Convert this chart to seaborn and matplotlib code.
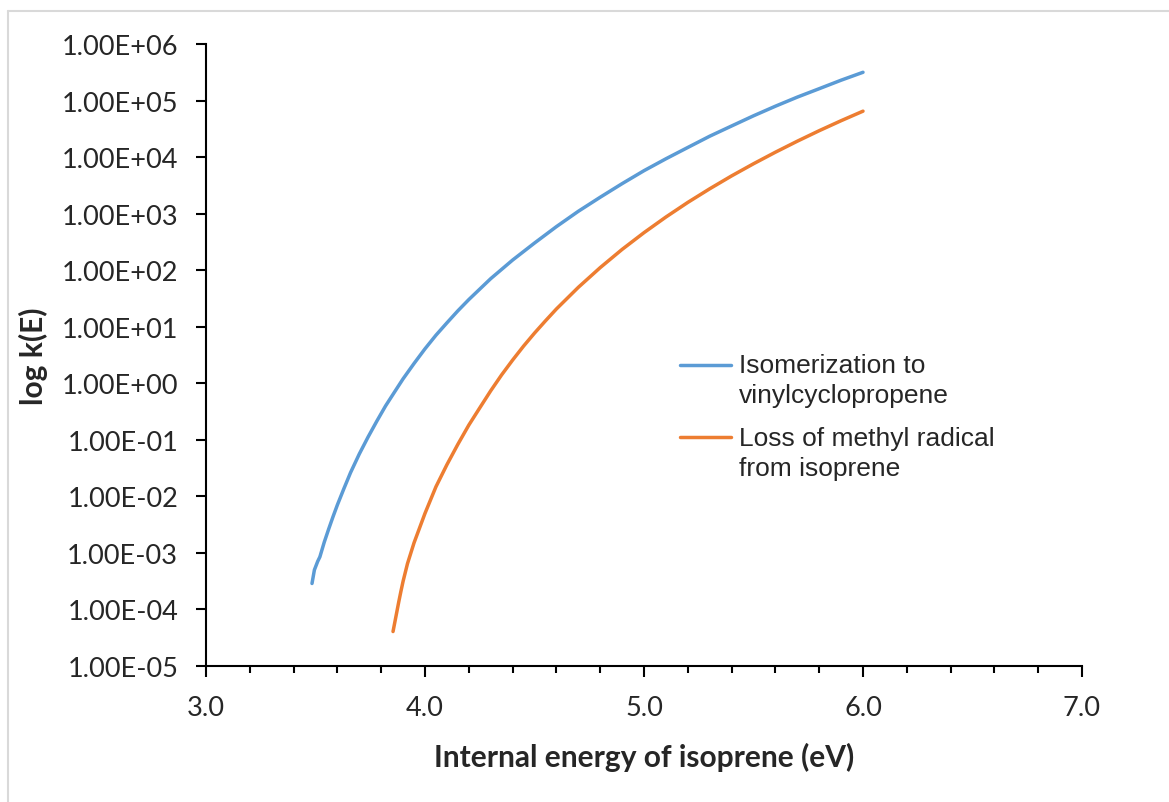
import numpy as np
import pandas as pd
import matplotlib
matplotlib.use("Agg")
import matplotlib.pyplot as plt
from matplotlib.lines import Line2D
from matplotlib.ticker import LogLocator, FuncFormatter, MultipleLocator, NullLocator
from matplotlib.legend_handler import HandlerLine2D
import seaborn as sns

# ---- data ----
series_names = ["Isomerization to\nvinylcyclopropene",
                "Loss of methyl radical\nfrom isoprene"]

iso_energy = [3.484, 3.495, 3.500, 3.510, 3.520, 3.54, 3.56, 3.58, 3.60, 3.63,
              3.66, 3.70, 3.74, 3.78, 3.82, 3.86, 3.90, 3.95, 4.00, 4.05,
              4.10, 4.15, 4.20, 4.30, 4.40, 4.50, 4.60, 4.70, 4.80, 4.90,
              5.00, 5.10, 5.20, 5.30, 5.40, 5.50, 5.60, 5.70, 5.80, 5.90, 6.00]
iso_k = [2.88e-4, 5.01e-4, 5.62e-4, 7.08e-4, 8.51e-4, 1.55e-3, 2.63e-3, 4.37e-3, 7.08e-3, 1.38e-2,
         2.63e-2, 5.62e-2, 0.112, 0.214, 0.398, 0.692, 1.20, 2.24, 4.07, 7.08,
         11.7, 19.1, 30.2, 70.8, 151, 302, 589, 1.10e3, 1.95e3, 3.39e3,
         5.75e3, 9.33e3, 1.48e4, 2.34e4, 3.55e4, 5.37e4, 7.94e4, 1.15e5, 1.62e5, 2.29e5, 3.16e5]

me_energy = [3.854, 3.865, 3.872, 3.880, 3.890, 3.90, 3.92, 3.95, 4.00, 4.05, 4.10,
             4.15, 4.20, 4.25, 4.30, 4.35, 4.40, 4.45, 4.50, 4.55, 4.60,
             4.70, 4.80, 4.90, 5.00, 5.10, 5.20, 5.30, 5.40, 5.50, 5.60,
             5.70, 5.80, 5.90, 6.00]
me_k = [4.07e-5, 6.76e-5, 9.33e-5, 1.35e-4, 2.09e-4, 3.16e-4, 6.46e-4, 1.51e-3, 5.01e-3, 1.48e-2, 3.63e-2,
        8.32e-2, 0.182, 0.367, 0.736, 1.41, 2.57, 4.54, 7.71, 12.7, 20.6,
        49.7, 111, 233, 461, 871, 1.58e3, 2.75e3, 4.65e3, 7.62e3, 1.22e4,
        1.91e4, 2.93e4, 4.40e4, 6.49e4]

colors = ["#5B9BD5", "#ED7D31"]
x_label = "Internal energy of isoprene (eV)"
y_label = "log k(E)"

df = pd.concat([
    pd.DataFrame({"E": iso_energy, "k": iso_k, "process": series_names[0]}),
    pd.DataFrame({"E": me_energy, "k": me_k, "process": series_names[1]}),
], ignore_index=True)

# ---- figure ----
sns.set_style("white")
plt.rcParams["font.family"] = ["Lato", "DejaVu Sans"]

W, H = 1169, 803
fig = plt.figure(figsize=(W / 100, H / 100), dpi=100)
ax = fig.add_axes([206 / W, 1 - 667 / H, (1082 - 206) / W, (667 - 45) / H])

LW = 2.5
sns.lineplot(data=df, x="E", y="k", hue="process", palette=colors,
             estimator=None, sort=True, linewidth=LW, legend=False, ax=ax,
             solid_capstyle="round", solid_joinstyle="round")

ax.set_yscale("log")
ax.set_xlim(3.0, 7.0)
ax.set_ylim(1e-5, 1e6)

ax.yaxis.set_major_locator(LogLocator(base=10, numticks=20))
ax.yaxis.set_minor_locator(NullLocator())
ax.yaxis.set_major_formatter(FuncFormatter(lambda v, p: f"{v:.2E}"))
ax.xaxis.set_major_locator(MultipleLocator(1.0))
ax.xaxis.set_minor_locator(MultipleLocator(0.2))
ax.xaxis.set_major_formatter(FuncFormatter(lambda v, p: f"{v:.1f}"))

for s in ["top", "right"]:
    ax.spines[s].set_visible(False)
for s in ["left", "bottom"]:
    ax.spines[s].set_color("black")
    ax.spines[s].set_linewidth(1.5)

TXT = "#262626"
ax.tick_params(axis="y", which="major", direction="out", length=7, width=1.5,
               color="black", pad=13, labelsize=19.5, labelcolor=TXT, left=True)
ax.tick_params(axis="x", which="major", direction="out", length=8, width=1.5,
               color="black", pad=13, labelsize=19.5, labelcolor=TXT, bottom=True)
ax.tick_params(axis="x", which="minor", direction="out", length=5, width=1.5,
               color="black", bottom=True)

ax.set_xlabel(x_label, fontsize=21.5, fontweight="bold", color=TXT)
ax.set_ylabel(y_label, fontsize=21.5, fontweight="bold", color=TXT)
ax.xaxis.set_label_coords(0.5, -(757 - 667) / (667 - 45))
ax.yaxis.set_label_coords(-(206 - 33) / (1082 - 206), 0.5)
ax.xaxis.label.set_va("center")
ax.yaxis.label.set_va("center")


class TopAligned(HandlerLine2D):
    """Place the legend line level with the first line of a two-line label."""

    def __init__(self, dy=0.0, **kw):
        super().__init__(**kw)
        self.dy = dy

    def create_artists(self, legend, orig_handle, xdescent, ydescent, width,
                       height, fontsize, trans):
        arts = super().create_artists(legend, orig_handle, xdescent, ydescent,
                                      width, height, fontsize, trans)
        for a in arts:
            if isinstance(a, Line2D):
                a.set_ydata([y + self.dy for y in a.get_ydata()])
        return arts


handles = [Line2D([], [], color=c, lw=LW) for c in colors]
leg = ax.legend(handles, series_names, loc="upper left",
                bbox_to_anchor=((680 - 206) / 876, 1 - (354 - 45) / 622),
                frameon=False, handlelength=1.95, handletextpad=0.28,
                labelspacing=0.7, borderpad=0, borderaxespad=0,
                prop={"family": ["Liberation Sans", "DejaVu Sans"], "size": 19},
                handler_map={h: TopAligned(dy=11.4) for h in handles})
for t in leg.get_texts():
    t.set_color(TXT)
    t.set_linespacing(1.33)

# light frame of the chart area
fig.add_artist(Line2D([8 / W, 8 / W], [0, 1 - 12 / H], transform=fig.transFigure,
                      color="#d9d9d9", lw=1.5))
fig.add_artist(Line2D([8 / W, 1], [1 - 12 / H, 1 - 12 / H], transform=fig.transFigure,
                      color="#d9d9d9", lw=1.5))

fig.savefig("out.png", dpi=100, facecolor="white")
